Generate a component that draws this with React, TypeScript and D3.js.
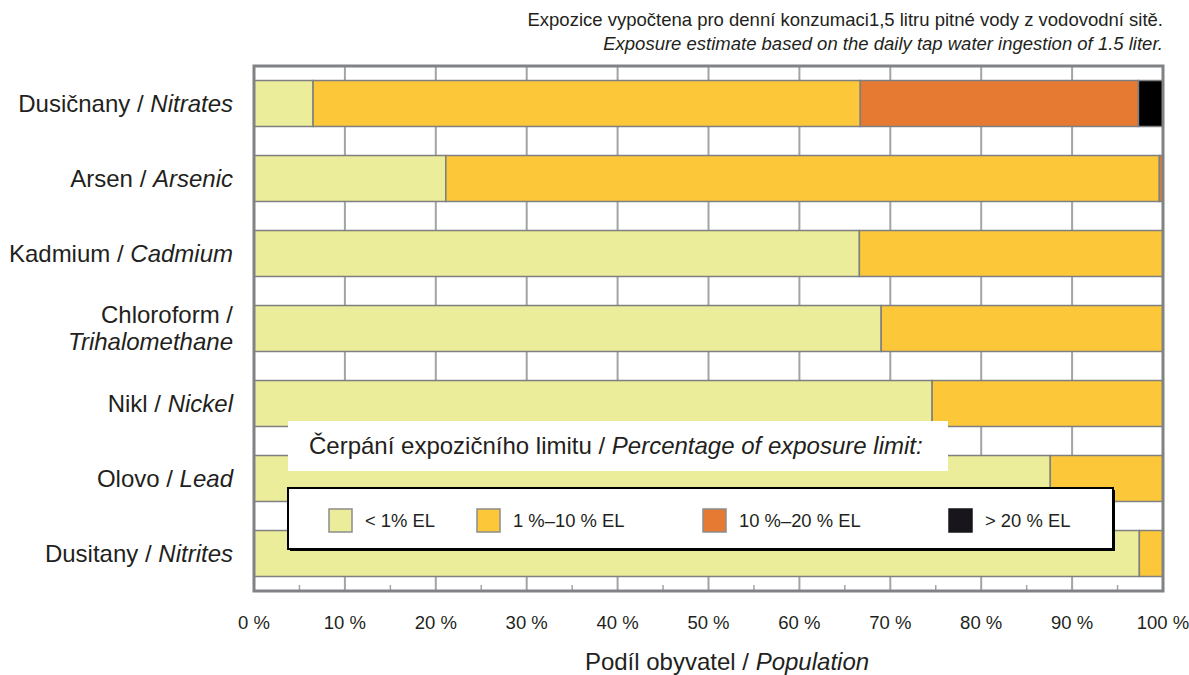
import React from "react";
import * as d3 from "d3";

const categoriesCz = ["Dusičnany", "Arsen", "Kadmium", "Chloroform", "Nikl", "Olovo", "Dusitany"];
const categoriesEn = ["Nitrates", "Arsenic", "Cadmium", "Trihalomethane", "Nickel", "Lead", "Nitrites"];
const lt1 = [6.5, 21.1, 66.6, 69.0, 74.6, 87.6, 97.4];
const p1to10 = [60.2, 78.5, 33.4, 31.0, 25.4, 12.4, 2.6];
const p10to20 = [30.6, 0.4, 0, 0, 0, 0, 0];
const gt20 = [2.7, 0, 0, 0, 0, 0, 0];
const seriesKeys = ["lt1", "p1to10", "p10to20", "gt20"];
const seriesLabels = ["< 1% EL", "1 %–10 % EL", "10 %–20 % EL", "> 20 % EL"];
const seriesColors = ["#ECED9B", "#FCC83A", "#E77A32", "#000000"];
const legendColors = ["#ECED9B", "#FCC83A", "#E77A32", "#18161B"];
const xTicks = [0, 10, 20, 30, 40, 50, 60, 70, 80, 90, 100];
const minorTicks = [5, 15, 25, 35, 45, 55, 65, 75, 85, 95];

const W = 1189;
const H = 675;
const left = 254;
const right = 1163;
const top = 66;
const bottom = 591;
const FONT = "'Liberation Sans', Arial, sans-serif";
const TXT = "#231F20";

export default function App() {
  const rows = categoriesCz.map((c, i) => ({
    key: c,
    lt1: lt1[i],
    p1to10: p1to10[i],
    p10to20: p10to20[i],
    gt20: gt20[i],
  }));
  const x = d3.scaleLinear().domain([0, 100]).range([left, right]);
  const y = d3
    .scaleBand<string>()
    .domain(categoriesCz)
    .range([top, bottom])
    .paddingInner(0.387)
    .paddingOuter(0.1935);
  const stacked = d3.stack<any>().keys(seriesKeys)(rows);

  const legendX = [329, 477, 703, 949];

  return (
    <div style={{ position: "absolute", left: 0, top: 0 }}>
      <svg width={W} height={H} style={{ display: "block" }} fontFamily={FONT}>
        <rect x={0} y={0} width={W} height={H} fill="#fff" />
        {/* annotation */}
        <text x={1163} y={26} textAnchor="end" fontSize={18.5} fill={TXT}>
          Expozice vypočtena pro denní konzumaci1,5 litru pitné vody z vodovodní sitě.
        </text>
        <text x={1163} y={50} textAnchor="end" fontSize={18.5} fill={TXT} fontStyle="italic">
          Exposure estimate based on the daily tap water ingestion of 1.5 liter.
        </text>

        {/* grid */}
        {xTicks.slice(1, -1).map((t) => (
          <line key={t} x1={x(t)} x2={x(t)} y1={top} y2={bottom} stroke="#A3A4A6" strokeWidth={2} />
        ))}
        {minorTicks.map((t) => (
          <line key={"m" + t} x1={x(t)} x2={x(t)} y1={bottom - 6} y2={bottom} stroke="#A3A4A6" strokeWidth={1.5} />
        ))}

        {/* bars */}
        {stacked.map((s, si) => (
          <g key={s.key}>
            {s.map((d, i) => {
              const w = x(d[1]) - x(d[0]);
              if (w <= 0) return null;
              return (
                <rect
                  key={i}
                  x={x(d[0])}
                  y={y(categoriesCz[i])!}
                  width={w}
                  height={y.bandwidth()}
                  fill={seriesColors[si]}
                  stroke="#7E7F81"
                  strokeWidth={1.5}
                />
              );
            })}
          </g>
        ))}

        {/* plot border */}
        <rect x={left} y={top} width={right - left} height={bottom - top} fill="none" stroke="#808285" strokeWidth={3} />

        {/* category labels */}
        {categoriesCz.map((c, i) => {
          const cy = y(c)! + y.bandwidth() / 2;
          if (c === "Chloroform") {
            return (
              <g key={c}>
                <text x={233} y={cy - 6} textAnchor="end" fontSize={24} fill={TXT}>
                  {c + " / "}
                </text>
                <text x={233} y={cy + 21} textAnchor="end" fontSize={24} fill={TXT} fontStyle="italic">
                  {categoriesEn[i]}
                </text>
              </g>
            );
          }
          return (
            <text key={c} x={233} y={cy + 8} textAnchor="end" fontSize={24} fill={TXT}>
              {c + " / "}
              <tspan fontStyle="italic">{categoriesEn[i]}</tspan>
            </text>
          );
        })}

        {/* x tick labels */}
        {xTicks.map((t) => (
          <text key={"t" + t} x={x(t)} y={629} textAnchor="middle" fontSize={18.5} fill={TXT}>
            {t + " %"}
          </text>
        ))}
        <text x={727} y={670} textAnchor="middle" fontSize={24} fill={TXT}>
          {"Podíl obyvatel / "}
          <tspan fontStyle="italic">Population</tspan>
        </text>

        {/* legend title */}
        <rect x={288} y={421} width={660} height={50} fill="#fff" />
        <text x={309} y={454} fontSize={24} fill={TXT}>
          {"Čerpání expozičního limitu / "}
          <tspan fontStyle="italic">Percentage of exposure limit:</tspan>
        </text>

        {/* legend box */}
        <rect x={290} y={490} width={825} height={61} fill="#000" />
        <rect x={288} y={488} width={825} height={61} fill="#fff" stroke="#000" strokeWidth={2} />
        {seriesLabels.map((l, i) => (
          <g key={l}>
            <rect
              x={legendX[i]}
              y={509}
              width={23}
              height={23}
              fill={legendColors[i]}
              stroke={i === 3 ? legendColors[i] : "#8C8C8C"}
              strokeWidth={1.5}
            />
            <text x={legendX[i] + 36} y={527} fontSize={18.4} fill={TXT}>
              {l}
            </text>
          </g>
        ))}
      </svg>
    </div>
  );
}
